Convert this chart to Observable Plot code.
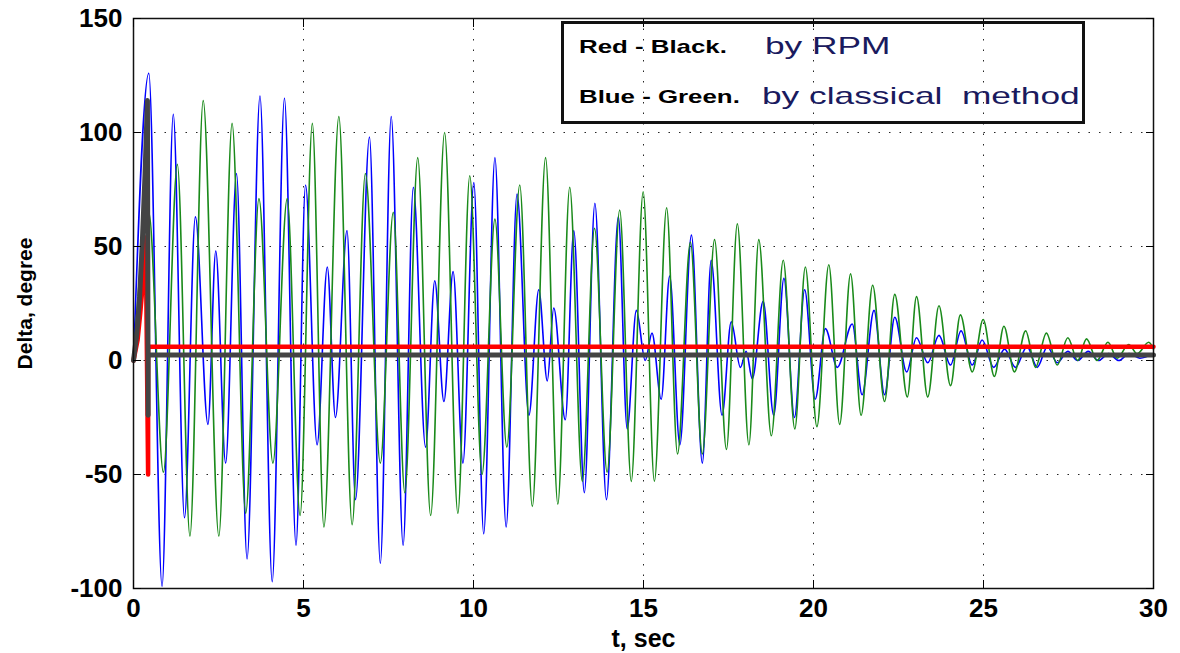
<!DOCTYPE html>
<html>
<head>
<meta charset="utf-8">
<script src="https://cdn.jsdelivr.net/npm/d3@7"></script>
<script src="https://cdn.jsdelivr.net/npm/@observablehq/plot@0.6"></script>
<style>
  html, body { margin: 0; padding: 0; background: #fff; }
  #wrap { position: relative; width: 1180px; height: 653px; overflow: hidden; }
  #legend { position: absolute; left: 561px; top: 21px; width: 518px; height: 97px; border: 3px solid #111; }
  .lg { position: absolute; white-space: pre; transform-origin: 0 50%; line-height: 1; }
  .b { font: bold 19px "Liberation Sans", Arial, sans-serif; color: #000; transform: scaleX(1.36); }
  .n { font: 24px "Liberation Sans", Arial, sans-serif; color: #1a1a5e; transform: scaleX(1.47); }
</style>
</head>
<body>
<div id="wrap">
  <div id="chart"></div>
  <div id="legend"></div>
</div>
<script>
// ---- tick values ----
const xTicks = [0, 5, 10, 15, 20, 25, 30];
const yTicks = [-100, -50, 0, 50, 100, 150];
const xLabel = "t, sec";
const yLabel = "Delta, degree";

// ---- legend text ----
const legendBold = ["Red - Black.", "Blue - Green."];
const legendNormal = ["by RPM", "by classical  method"];

// ---- blue curve (classical method), extrema ----
const blueT = [0, 0.45, 0.84, 1.17, 1.50, 1.82, 2.19, 2.42, 2.71, 3.03, 3.34, 3.72, 4.08, 4.44, 4.78,
  5.06, 5.40, 5.70, 5.94, 6.28, 6.53, 6.94, 7.26, 7.58, 7.93, 8.23, 8.59, 8.86, 9.13, 9.40, 9.69,
  10.01, 10.30, 10.63, 10.96, 11.28, 11.63, 11.92, 12.17, 12.36, 12.70, 12.95, 13.26, 13.57, 13.91,
  14.26, 14.52, 14.79, 15.05, 15.25, 15.52, 15.77, 16.07, 16.41, 16.73, 16.99, 17.31, 17.58, 17.85,
  18.02, 18.20, 18.52, 18.83, 19.13, 19.44, 19.74, 20.05, 20.35, 20.70, 21.14, 21.43, 21.78, 22.09,
  22.39, 22.74, 23.03, 23.36, 23.69, 24.03, 24.34, 24.67, 24.96, 25.30, 25.62, 25.94, 26.28, 26.58,
  26.88, 27.17, 27.48, 27.77, 28.08, 28.38, 28.68, 28.98, 29.28, 29.60, 30];
const blueV = [0, 126, -99, 108, -69, 63, -28, 48, -45, 82, -87, 116, -97, 115, -81,
  77, -37, 41, -25, 57, -61, 98, -89, 107, -81, 76, -38, 35, -18, 39, -45,
  78, -76, 89, -73, 73, -24, 31, -9, 23, -26, 57, -58, 69, -61,
  63, -30, 22, 0, 12, -17, 37, -37, 55, -45, 44, -24, 17, -3,
  4, -8, 26, -24, 36, -25, 31, -17, 14, -3, 16, -15, 22, -15,
  19, -5, 10, -1, 11, -2, 13, -2, 9, -3, 5, -3, 6, -3,
  6, -1, 4, 0, 4, 0, 3, 0, 3, 1, 3];

// ---- green curve (classical method) ----
const greenT = [0, 0.45, 0.88, 1.29, 1.66, 2.05, 2.51, 2.90, 3.30, 3.69, 4.10, 4.52, 4.90,
  5.26, 5.60, 6.04, 6.43, 6.82, 7.26, 7.64, 7.98, 8.36, 8.74, 9.15, 9.54, 9.89,
  10.25, 10.63, 10.98, 11.36, 11.73, 12.12, 12.48, 12.83, 13.20, 13.56, 13.93, 14.30, 14.64, 14.99,
  15.32, 15.68, 16.00, 16.38, 16.73, 17.09, 17.44, 17.76, 18.10, 18.39, 18.76, 19.11, 19.45, 19.76,
  20.10, 20.45, 20.77, 21.09, 21.40, 21.74, 22.09, 22.39, 22.76, 23.03, 23.36, 23.69, 24.03, 24.32,
  24.67, 24.99, 25.32, 25.60, 25.91, 26.24, 26.53, 26.85, 27.17, 27.48, 27.77, 28.03, 28.34, 28.66,
  28.93, 29.27, 29.52, 29.86, 30];
const greenV = [0, 65, -49, 86, -77, 114, -77, 104, -67, 71, -45, 71, -68,
  104, -73, 107, -72, 82, -45, 65, -58, 89, -68, 100, -67, 81,
  -50, 62, -38, 77, -64, 89, -63, 76, -53, 58, -49, 66, -53, 74,
  -53, 67, -41, 52, -41, 53, -39, 60, -37, 53, -33, 44, -30, 41,
  -29, 42, -28, 38, -24, 33, -18, 29, -16, 28, -16, 24, -11, 20,
  -5, 18, -7, 15, -5, 13, -3, 12, -2, 10, 0, 9.5, 0, 8,
  1, 7, 3, 8, 5];

// ---- red curve (RPM) ----
const redT = [0, 0.12, 0.20, 0.28, 0.36, 0.43, 0.43, 30];
const redV = [0, 9, 21, 35, 54, -50, 6, 6];

// ---- black curve (RPM) ----
const blackT = [0, 0.10, 0.18, 0.26, 0.34, 0.41, 0.43, 0.43, 30];
const blackV = [0, 12, 28, 52, 82, 114, -24, 2.4, 2.4];

const toRows = (T, V) => T.map((t, i) => ({t, v: V[i]}));
const blue = toRows(blueT, blueV);
const green = toRows(greenT, greenV);
const red = toRows(redT, redV);
const black = toRows(blackT, blackV);

const font = '"Liberation Sans", Arial, sans-serif';
const gridStyle = {stroke: "#000", strokeOpacity: 0.85, strokeWidth: 1, strokeDasharray: "1.5,9"};

const chart = Plot.plot({
  width: 1180,
  height: 653,
  marginLeft: 133,
  marginRight: 27,
  marginTop: 18,
  marginBottom: 65,
  x: {domain: [0, 30]},
  y: {domain: [-100, 150]},
  style: {fontFamily: font, fontSize: "26px", fontWeight: "bold", background: "white", color: "black"},
  marks: [
    Plot.gridX(xTicks, gridStyle),
    Plot.gridY(yTicks, gridStyle),
    Plot.line(blue, {x: "t", y: "v", stroke: "#0000ff", strokeWidth: 1.6, curve: "monotone-x"}),
    Plot.line(green, {x: "t", y: "v", stroke: "#1a8a1a", strokeWidth: 1.6, curve: "monotone-x"}),
    Plot.line(red, {x: "t", y: "v", stroke: "#ff0000", strokeWidth: 4.5}),
    Plot.line(black, {x: "t", y: "v", stroke: "#444444", strokeWidth: 5}),
    Plot.frame({stroke: "#111", strokeWidth: 1.5}),
    Plot.axisX(xTicks, {anchor: "bottom", tickSize: 0, tickPadding: 10, label: null, tickFormat: d => String(d)}),
    Plot.axisY(yTicks, {anchor: "left", tickSize: 0, tickPadding: 11, label: null, tickFormat: d => String(d)}),
    Plot.axisX(xTicks, {anchor: "bottom", tickSize: -8, tickFormat: () => "", label: null}),
    Plot.axisX(xTicks, {anchor: "top", tickSize: -8, tickFormat: () => "", label: null}),
    Plot.axisY(yTicks, {anchor: "left", tickSize: -8, tickFormat: () => "", label: null}),
    Plot.axisY(yTicks, {anchor: "right", tickSize: -8, tickFormat: () => "", label: null}),
    Plot.text([xLabel], {frameAnchor: "bottom", dy: 50, lineAnchor: "middle", textAnchor: "middle", fontSize: 25, fontWeight: "bold"}),
    Plot.text([yLabel], {frameAnchor: "left", dx: -108, rotate: -90, textAnchor: "middle", lineAnchor: "middle", fontSize: 21, fontWeight: "bold"})
  ]
});
document.getElementById("chart").appendChild(chart);

// legend (HTML overlay)
const lg = document.getElementById("legend");
const place = [
  {text: legendBold[0], cls: "b", left: 15, top: 11.9},
  {text: legendBold[1], cls: "b", left: 15, top: 62.4},
  {text: legendNormal[0], cls: "n", left: 201, top: 8.2},
  {text: legendNormal[1], cls: "n", left: 198, top: 58.2}
];
for (const p of place) {
  const s = document.createElement("span");
  s.className = "lg " + p.cls;
  s.textContent = p.text;
  s.style.left = p.left + "px";
  s.style.top = p.top + "px";
  lg.appendChild(s);
}
</script>
</body>
</html>
